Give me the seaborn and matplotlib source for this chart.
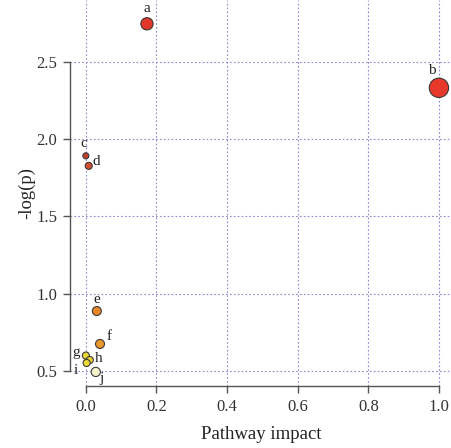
import matplotlib
matplotlib.use("Agg")

import matplotlib.pyplot as plt
import pandas as pd
import seaborn as sns

# ── Data ─────────────────────────────────────────────────────────────────────
names = ["a", "b", "c", "d", "e", "f", "g", "h", "i", "j"]
impact = [0.173, 1.000, 0.000, 0.008, 0.031, 0.040, 0.000, 0.011, 0.002, 0.028]
neglogp = [2.746, 2.332, 1.892, 1.827, 0.888, 0.675, 0.600, 0.571, 0.552, 0.494]

x_ticks = [0.0, 0.2, 0.4, 0.6, 0.8, 1.0]
y_ticks = [0.5, 1.0, 1.5, 2.0, 2.5]

# ── Styles ───────────────────────────────────────────────────────────────────
point_colors = ["#e3372b", "#e6392b", "#c4402c", "#cf4f2e", "#e8882b",
                "#eb962f", "#ead634", "#e8d22f", "#ecdb38", "#f6f3cc"]
point_sizes = [78, 195, 19, 26, 42, 42, 26, 26, 26, 44]
# label offsets in pixels (dx, dy)
label_offsets = [(0, 15), (-7, 17), (-2, 12), (8, 4), (0, 12),
                 (9, 7), (-10, 3), (9, 2), (-11, -8), (6, -7)]

df = pd.DataFrame({"name": names, "impact": impact, "neglogp": neglogp})

sns.set_theme(style="white")
plt.rcParams["font.family"] = ["Liberation Serif", "DejaVu Serif"]

fig = plt.figure(figsize=(4.52, 4.48), dpi=100)
ax = fig.add_axes([70 / 452, (448 - 386) / 448, 382 / 452, 386 / 448])

sns.scatterplot(data=df, x="impact", y="neglogp", hue="name", size="name",
                palette=dict(zip(names, point_colors)),
                sizes=dict(zip(names, point_sizes)),
                edgecolor="#3a3a3a", linewidth=0.8, legend=False, ax=ax,
                zorder=3)

for n, x, y, (dx, dy) in zip(names, impact, neglogp, label_offsets):
    ax.annotate(n, (x, y), xytext=(dx, dy), textcoords="offset pixels",
                ha="center", va="center", fontsize=11, color="#222222")

ax.set_xlim(-0.045, 1.037)
ax.set_ylim(0.403, 2.90)
ax.set_xticks(x_ticks)
ax.set_yticks(y_ticks)
ax.set_xticklabels([f"{v:.1f}" for v in x_ticks])
ax.set_yticklabels([f"{v:.1f}" for v in y_ticks])

ax.grid(True, color="#8a8ad6", linestyle=(0, (1.5, 2)), linewidth=0.8)
ax.set_axisbelow(True)

for side in ["top", "right"]:
    ax.spines[side].set_visible(False)
for side in ["left", "bottom"]:
    ax.spines[side].set_color("#555555")
    ax.spines[side].set_linewidth(1.0)
ax.spines["left"].set_bounds(0.5, 2.5)
ax.spines["bottom"].set_bounds(0.0, 1.0)

ax.tick_params(axis="both", direction="out", length=5, width=1.0,
               color="#555555", labelsize=12, labelcolor="#333333",
               bottom=True, left=True, pad=4)

ax.set_xlabel("Pathway impact", fontsize=13.5, color="#222222", labelpad=8)
ax.set_ylabel("-log(p)", fontsize=13.5, color="#222222", labelpad=1)

fig.savefig("out.png", dpi=100)
